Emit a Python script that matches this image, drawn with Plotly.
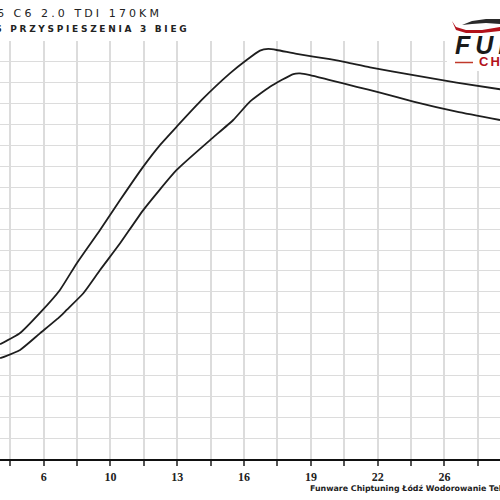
import plotly.graph_objects as go

# ---- data ----
time_a = [4.31, 5.27, 6.22, 7.18, 7.98, 9.10, 10.06, 11.17, 11.97, 12.77, 13.97, 15.32,
          16.12, 16.76, 17.16, 17.56, 18.52, 20.11, 20.91, 22.03, 24.11, 26.18, 28.26]
val_a = [54.9, 60.3, 69.9, 80.9, 93.6, 109.6, 123.9, 139.9, 150.2, 159.0, 171.8, 184.5,
         190.9, 195.4, 196.2, 195.7, 193.8, 191.3, 189.8, 187.4, 183.7, 180.1, 176.9]

time_b = [4.31, 5.27, 6.22, 7.18, 7.50, 8.30, 9.10, 10.06, 11.17, 12.77, 14.37, 15.48,
          16.28, 17.24, 18.36, 18.68, 19.16, 20.11, 21.39, 22.51, 24.11, 26.18, 28.26]
val_b = [48.2, 52.2, 60.1, 68.1, 71.3, 79.3, 90.4, 103.2, 119.1, 138.3, 152.6, 162.2,
         171.0, 178.1, 184.2, 184.5, 183.7, 181.3, 178.1, 175.3, 171.0, 166.2, 162.2]

tick_positions = [6.4, 9.6, 12.8, 16.0, 19.2, 22.4, 25.6]
tick_labels = ["6", "10", "13", "16", "19", "22", "26"]

title_1 = "AUDI A6 C6 2.0 TDI 170KM"
title_2 = "CZAS PRZYSPIESZENIA 3 BIEG"
footer = "Funware Chiptuning Łódź Wodorowanie Tel"

W, H = 500, 500
T, B = 41, 41
PH = H - T - B


def px(x):
    return x / W


def py(y):
    return (H - B - y) / PH


fig = go.Figure()
for t, v in ((time_a, val_a), (time_b, val_b)):
    fig.add_trace(go.Scatter(x=t, y=v, mode="lines",
                             line=dict(color="#1e1e1e", width=1.8, shape="spline", smoothing=0.5),
                             hoverinfo="skip", showlegend=False))

fig.update_layout(
    width=W, height=H,
    margin=dict(l=0, r=0, t=T, b=B),
    paper_bgcolor="white", plot_bgcolor="white",
    xaxis=dict(range=[4.307, 28.259], tickvals=tick_positions, ticktext=tick_labels,
               showgrid=True, gridcolor="#dcdcdc", gridwidth=1.6,
               ticks="outside", ticklen=5, tickwidth=1.5, tickcolor="#555",
               ticklabelstandoff=1,
               tickfont=dict(family="Liberation Serif", size=12, color="#222", weight="bold"),
               showline=True, linecolor="#111", linewidth=2, zeroline=False,
               minor=dict(dtick=1.6, tick0=0, showgrid=True, gridcolor="#dcdcdc", gridwidth=1.6,
                          ticks="outside", ticklen=5, tickwidth=1.5, tickcolor="#555")),
    yaxis=dict(range=[0, 200], dtick=10, showgrid=True, gridcolor="#dcdcdc", gridwidth=1.4,
               showticklabels=False, zeroline=False, showline=False),
)

ann = []
ann.append(dict(text="<span style='letter-spacing:3.1px'>" + title_1 + "</span>",
                x=px(164), y=py(14), xref="paper", yref="paper", xanchor="right", yanchor="middle",
                showarrow=False, font=dict(family="DejaVu Sans", size=11, color="#222")))
ann.append(dict(text="<span style='letter-spacing:2.7px'>" + title_2 + "</span>",
                x=px(191), y=py(29), xref="paper", yref="paper", xanchor="right", yanchor="middle",
                showarrow=False, font=dict(family="DejaVu Sans", size=9, color="#222", weight="bold")))
ann.append(dict(text=footer, x=px(308), y=py(488), xref="paper", yref="paper",
                xanchor="left", yanchor="middle", showarrow=False,
                font=dict(family="DejaVu Sans", size=7.9, color="#222", weight="bold")))
# logo
ann.append(dict(text="<span style='letter-spacing:5px'>FUNWARE</span>", x=px(453), y=py(45),
                xref="paper", yref="paper", xanchor="left", yanchor="middle", showarrow=False,
                font=dict(family="Liberation Sans", size=25, color="#1a1a1a", weight="bold",
                          style="italic")))
ann.append(dict(text="<span style='letter-spacing:2px'>CHIPTUNING</span>", x=px(477), y=py(61),
                xref="paper", yref="paper", xanchor="left", yanchor="middle", showarrow=False,
                font=dict(family="Liberation Sans", size=13, color="#b3121b", weight="bold")))
fig.update_layout(annotations=ann)


def path(points):
    s = "M " + " L ".join(f"{px(a):.4f},{py(b):.4f}" for a, b in points) + " Z"
    return s


shapes = [
    dict(type="rect", xref="paper", yref="paper", x0=px(447), x1=px(502), y0=py(71), y1=py(-2),
         fillcolor="white", line=dict(width=0), layer="above"),
    dict(type="path", xref="paper", yref="paper",
         path=path([(462, 25), (472, 21), (486, 19), (500, 19), (500, 24), (486, 23), (472, 24)]),
         fillcolor="#2a2a2a", line=dict(width=0), layer="above"),
    dict(type="path", xref="paper", yref="paper",
         path=path([(452, 21), (456, 27), (466, 30), (482, 30), (500, 27), (500, 31), (482, 33),
                    (466, 33), (456, 30)]),
         fillcolor="#b3121b", line=dict(width=0), layer="above"),
    dict(type="line", xref="paper", yref="paper", x0=px(455), x1=px(473), y0=py(62.5), y1=py(62.5),
         line=dict(color="#c0392b", width=1.5), layer="above"),
]
fig.update_layout(shapes=shapes)

fig.write_html("out.html", config={"displayModeBar": False},
               post_script="document.body.style.margin='0';")
